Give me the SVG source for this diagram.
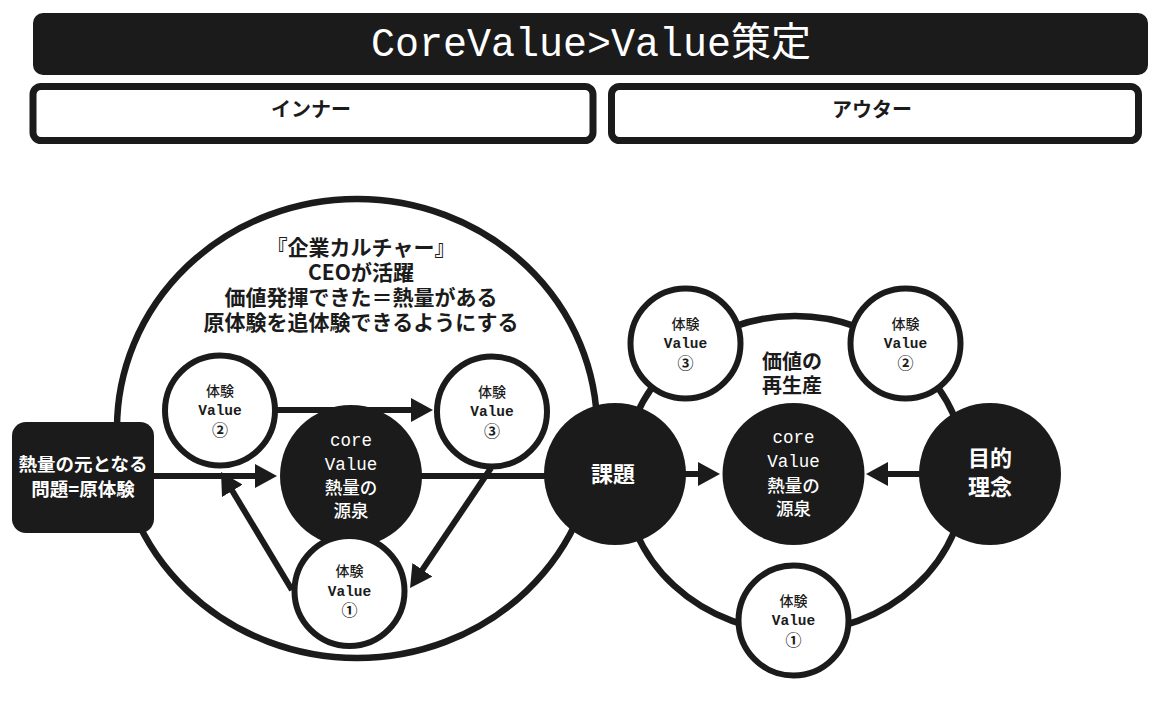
<svg xmlns="http://www.w3.org/2000/svg" width="1162" height="728" viewBox="0 0 1162 728">
<style>
.jp{font-family:"Noto Sans CJK JP","Noto Sans",sans-serif}
.mono{font-family:"Liberation Mono","DejaVu Sans Mono","Noto Sans CJK JP",monospace}
.title{font-size:40px;fill:#ffffff}
.hdr{font-size:20px;font-weight:700;fill:#1b1b1b}
.big{font-size:21px;font-weight:700;fill:#1b1b1b}
.boxt{font-size:18.5px;font-weight:700;fill:#ffffff}
.k{font-size:14px;font-weight:500;fill:#1b1b1b}
.v{font-size:14.5px;font-weight:700;fill:#1b1b1b}
.n{font-size:16px;font-weight:700;fill:#1b1b1b}
.cm{font-size:17.5px;font-weight:400;fill:#ffffff}
.cj{font-size:17.5px;font-weight:500;fill:#ffffff}
.dk{font-size:22px;font-weight:700;fill:#ffffff}
.lbl{font-size:20px;font-weight:700;fill:#1b1b1b}
.wc{fill:#ffffff;stroke:#1b1b1b;stroke-width:6}
.dc{fill:#1b1b1b}
.frame{fill:none;stroke:#1b1b1b;stroke-width:6.5}
.edge{stroke:#1b1b1b;stroke-width:6;fill:none}
text{text-anchor:middle}
</style>
<defs>
<marker id="ah" viewBox="0 0 22 24" markerWidth="22" markerHeight="24" refX="1" refY="12" orient="auto" markerUnits="userSpaceOnUse">
<path d="M0,0 L22,12 L0,24 z" fill="#1b1b1b"/>
</marker>
</defs>
<rect width="1162" height="728" fill="#ffffff"/>

<g id="header">
<rect x="33" y="13" width="1115" height="62" rx="10" fill="#1b1b1b"/>
<text class="mono title" x="591" y="56">CoreValue&gt;Value策定</text>
</g>
<g id="inner-tab">
<rect x="33" y="86.5" width="560" height="54" rx="8" fill="#ffffff" stroke="#1b1b1b" stroke-width="7"/>
<text class="jp hdr" x="311" y="117">インナー</text>
</g>
<g id="outer-tab">
<rect x="611.5" y="86.5" width="527" height="54" rx="8" fill="#ffffff" stroke="#1b1b1b" stroke-width="7"/>
<text class="jp hdr" x="872" y="117">アウター</text>
</g>

<g id="frames">
<ellipse class="frame" cx="357" cy="428.5" rx="240" ry="229.5"/>
<ellipse class="frame" cx="795" cy="474" rx="171" ry="158" stroke-width="6"/>
</g>

<g id="culture-label">
<text class="jp big" x="361" y="254.5"><tspan x="361">『企業カルチャー』</tspan><tspan x="361" dy="25">CEOが活躍</tspan><tspan x="361" dy="25">価値発揮できた＝熱量がある</tspan><tspan x="361" dy="25">原体験を追体験できるようにする</tspan></text>
</g>
<g id="reproduction-label">
<text class="jp lbl" x="792" y="369"><tspan x="792">価値の</tspan><tspan x="792" dy="23.5">再生産</tspan></text>
</g>

<g id="connectors">
<line class="edge" x1="154" y1="476" x2="256" y2="476" marker-end="url(#ah)"/>
<line class="edge" x1="421" y1="476" x2="546" y2="476"/>
<line class="edge" x1="276" y1="410" x2="412" y2="410" marker-end="url(#ah)"/>
<line class="edge" x1="491" y1="468" x2="421.8" y2="570.6" marker-end="url(#ah)"/>
<line class="edge" x1="292" y1="590" x2="231.8" y2="490" marker-end="url(#ah)"/>
<line class="edge" x1="684" y1="474" x2="699" y2="474" marker-end="url(#ah)"/>
<line class="edge" x1="920" y1="474" x2="887" y2="474" marker-end="url(#ah)"/>
</g>

<g id="source-box">
<rect x="12" y="422" width="142" height="111" rx="14" fill="#1b1b1b"/>
<text class="jp boxt" x="83" y="470.5"><tspan x="83">熱量の元となる</tspan><tspan x="83" dy="25">問題=原体験</tspan></text>
</g>

<g id="inner-exp2">
<circle class="wc" cx="220" cy="410.5" r="55"/>
<text x="220" y="395.5"><tspan class="jp k" x="220">体験</tspan><tspan class="mono v" x="220" dy="19.5">Value</tspan><tspan class="jp n" x="220" dy="21">②</tspan></text>
</g>
<g id="inner-exp3">
<circle class="wc" cx="492" cy="411.5" r="55"/>
<text x="492" y="396.5"><tspan class="jp k" x="492">体験</tspan><tspan class="mono v" x="492" dy="19.5">Value</tspan><tspan class="jp n" x="492" dy="21">③</tspan></text>
</g>
<g id="inner-core">
<circle class="dc" cx="351" cy="476" r="71"/>
<text x="351" y="445.5"><tspan class="mono cm" x="351">core</tspan><tspan class="mono cm" x="351" dy="24">Value</tspan><tspan class="jp cj" x="351" dy="24.5">熱量の</tspan><tspan class="jp cj" x="351" dy="23">源泉</tspan></text>
</g>
<g id="inner-exp1">
<circle class="wc" cx="349.5" cy="591" r="55"/>
<text x="349.5" y="576"><tspan class="jp k" x="349.5">体験</tspan><tspan class="mono v" x="349.5" dy="19.5">Value</tspan><tspan class="jp n" x="349.5" dy="20.5">①</tspan></text>
</g>

<g id="issue">
<circle class="dc" cx="615" cy="474" r="71"/>
<text class="jp dk" x="613" y="481.5">課題</text>
</g>
<g id="outer-core">
<circle class="dc" cx="793.5" cy="474" r="71"/>
<text x="793.5" y="442.5"><tspan class="mono cm" x="793.5">core</tspan><tspan class="mono cm" x="793.5" dy="24.5">Value</tspan><tspan class="jp cj" x="793.5" dy="24.5">熱量の</tspan><tspan class="jp cj" x="793.5" dy="23">源泉</tspan></text>
</g>
<g id="purpose">
<circle class="dc" cx="990" cy="474" r="71"/>
<text class="jp dk" x="990" y="466"><tspan x="990">目的</tspan><tspan x="990" dy="29">理念</tspan></text>
</g>
<g id="outer-exp3">
<circle class="wc" cx="685.5" cy="343.5" r="55"/>
<text x="685.5" y="328.5"><tspan class="jp k" x="685.5">体験</tspan><tspan class="mono v" x="685.5" dy="19.5">Value</tspan><tspan class="jp n" x="685.5" dy="21">③</tspan></text>
</g>
<g id="outer-exp2">
<circle class="wc" cx="905.5" cy="343.5" r="55"/>
<text x="905.5" y="328.5"><tspan class="jp k" x="905.5">体験</tspan><tspan class="mono v" x="905.5" dy="19.5">Value</tspan><tspan class="jp n" x="905.5" dy="21">②</tspan></text>
</g>
<g id="outer-exp1">
<circle class="wc" cx="793.5" cy="620.5" r="55"/>
<text x="793.5" y="605.5"><tspan class="jp k" x="793.5">体験</tspan><tspan class="mono v" x="793.5" dy="19.5">Value</tspan><tspan class="jp n" x="793.5" dy="20.5">①</tspan></text>
</g>
</svg>
